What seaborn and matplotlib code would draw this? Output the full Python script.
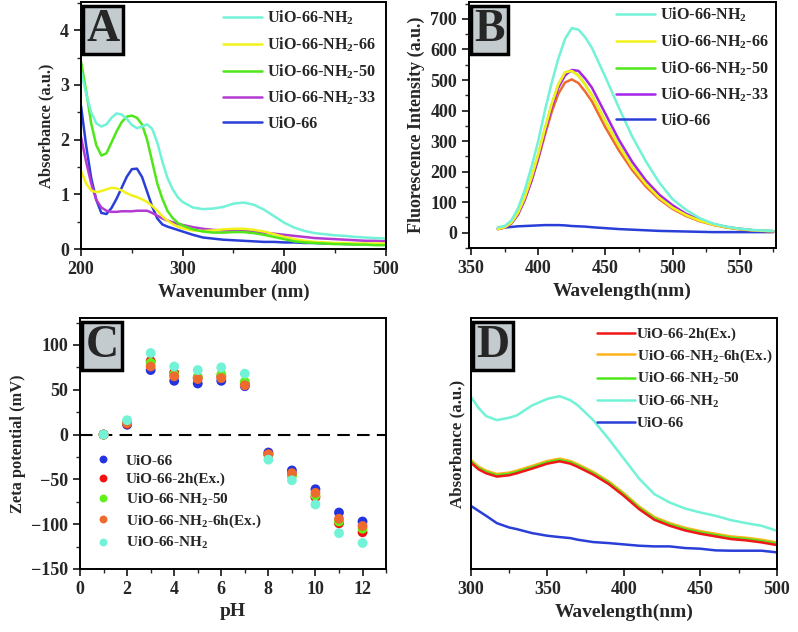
import numpy as np
import pandas as pd
import matplotlib
matplotlib.use("Agg")
import matplotlib.pyplot as plt
from matplotlib.ticker import MultipleLocator, NullLocator
import seaborn as sns

sns.set_style("ticks")
plt.rcParams["font.family"] = ["Liberation Serif", "DejaVu Serif"]
plt.rcParams["font.weight"] = "bold"
plt.rcParams["axes.labelweight"] = "bold"
plt.rcParams["mathtext.fontset"] = "custom"
plt.rcParams["mathtext.rm"] = "Liberation Serif:bold"
plt.rcParams["mathtext.default"] = "rm"

# ---------------- Panel A data ----------------
wl_a = [200, 205, 210, 215, 220, 225, 230, 235, 240, 245, 250, 255, 260, 265, 270, 275, 280, 285, 290, 295,
        300, 310, 320, 330, 340, 350, 360, 370, 380, 390, 400, 410, 420, 430, 440, 450, 460, 470, 480, 490, 500]
a_nh2 = [3.25, 2.85, 2.5, 2.3, 2.24, 2.28, 2.4, 2.48, 2.46, 2.38, 2.27, 2.21, 2.24, 2.28, 2.2, 1.95, 1.6, 1.3, 1.1, 0.95,
         0.86, 0.76, 0.73, 0.74, 0.77, 0.83, 0.85, 0.81, 0.72, 0.6, 0.48, 0.39, 0.33, 0.29, 0.27, 0.25, 0.24, 0.22, 0.21, 0.2, 0.19]
a_nh2_66 = [1.43, 1.2, 1.07, 1.04, 1.06, 1.09, 1.12, 1.11, 1.07, 1.02, 0.98, 0.95, 0.91, 0.86, 0.79, 0.7, 0.6, 0.52, 0.46, 0.41,
            0.38, 0.34, 0.33, 0.34, 0.36, 0.37, 0.37, 0.35, 0.32, 0.27, 0.22, 0.18, 0.15, 0.13, 0.12, 0.11, 0.11, 0.1, 0.1, 0.1, 0.1]
a_nh2_50 = [3.43, 2.9, 2.3, 1.9, 1.71, 1.75, 1.95, 2.15, 2.32, 2.42, 2.44, 2.4, 2.28, 2.0, 1.6, 1.2, 0.92, 0.7, 0.57, 0.48,
            0.43, 0.36, 0.32, 0.3, 0.3, 0.31, 0.31, 0.29, 0.26, 0.22, 0.18, 0.14, 0.12, 0.11, 0.1, 0.09, 0.09, 0.08, 0.08, 0.07, 0.07]
a_nh2_33 = [2.05, 1.6, 1.2, 0.9, 0.76, 0.7, 0.68, 0.68, 0.69, 0.69, 0.69, 0.7, 0.7, 0.7, 0.66, 0.61, 0.56, 0.52, 0.49, 0.46,
            0.44, 0.4, 0.37, 0.35, 0.34, 0.33, 0.33, 0.32, 0.3, 0.28, 0.26, 0.24, 0.22, 0.2, 0.19, 0.18, 0.17, 0.16, 0.15, 0.15, 0.14]
a_uio66 = [2.62, 1.9, 1.3, 0.9, 0.66, 0.64, 0.75, 0.92, 1.12, 1.32, 1.46, 1.47, 1.32, 1.05, 0.78, 0.56, 0.45, 0.41, 0.38, 0.35,
           0.32, 0.26, 0.21, 0.19, 0.17, 0.16, 0.15, 0.14, 0.13, 0.13, 0.12, 0.12, 0.11, 0.11, 0.1, 0.1, 0.09, 0.09, 0.09, 0.08, 0.08]

# ---------------- Panel B data ----------------
wl_b = [370, 375, 380, 385, 390, 395, 400, 405, 410, 415, 420, 425, 430, 435, 440, 450, 460, 470, 480, 490,
        500, 510, 520, 530, 540, 550, 560, 575]
b_nh2 = [18, 22, 40, 80, 140, 215, 300, 400, 490, 570, 635, 670, 665, 640, 605, 510, 410, 315, 235, 165,
         110, 75, 48, 30, 20, 13, 9, 6]
b_nh2_66 = [12, 18, 32, 65, 115, 180, 255, 340, 420, 485, 525, 530, 515, 485, 450, 365, 285, 215, 160, 115,
            82, 58, 40, 27, 18, 12, 8, 5]
b_nh2_50 = [12, 18, 32, 65, 115, 180, 255, 340, 420, 485, 525, 530, 515, 485, 450, 365, 285, 215, 160, 115,
            82, 58, 40, 27, 18, 12, 8, 5]
b_nh2_33 = [12, 17, 30, 60, 108, 170, 245, 330, 410, 475, 515, 533, 530, 505, 475, 390, 305, 232, 172, 125,
            90, 62, 43, 29, 19, 13, 8, 5]
b_extra = [12, 17, 30, 60, 108, 170, 240, 320, 395, 455, 492, 502, 490, 462, 430, 345, 270, 205, 152, 110,
           78, 55, 38, 26, 17, 11, 7, 4]
b_uio66 = [15, 17, 19, 21, 22, 23, 24, 25, 25, 25, 24, 22, 21, 20, 18, 15, 12, 10, 8, 6,
           5, 4, 3, 2, 2, 2, 2, 2]

# ---------------- Panel C data ----------------
ph = [1, 2, 3, 4, 5, 6, 7, 8, 9, 10, 11, 12]
c_uio66 = [0, 11, 72, 60, 57, 60, 54, -20, -40, -61, -87, -97]
c_2h = [0, 12, 82, 69, 64, 65, 57, -22, -45, -70, -99, -109]
c_nh2_50 = [0, 13, 80, 67, 64, 67, 59, -23, -46, -68, -97, -105]
c_nh2_6h = [0, 13, 76, 65, 62, 63, 55, -22, -43, -65, -94, -102]
c_nh2 = [0, 16, 91, 76, 72, 75, 68, -28, -51, -78, -110, -121]

# ---------------- Panel D data ----------------
wl_d = [300, 305, 310, 317, 325, 330, 340, 350, 358, 365, 370, 380, 390, 400, 410, 420, 430, 440, 450, 460, 470, 480, 490, 500]
d_nh2 = [5.18, 4.85, 4.6, 4.48, 4.55, 4.62, 4.92, 5.12, 5.2, 5.08, 4.92, 4.48, 3.92, 3.32, 2.72, 2.25, 2.0, 1.82, 1.7, 1.6, 1.47, 1.38, 1.3, 1.15]
d_2h = [3.2, 3.0, 2.88, 2.78, 2.82, 2.88, 3.02, 3.17, 3.24, 3.17, 3.07, 2.84, 2.56, 2.2, 1.8, 1.48, 1.3, 1.16, 1.06, 0.98, 0.9, 0.86, 0.8, 0.72]
d_6h = [3.28, 3.08, 2.96, 2.86, 2.9, 2.96, 3.1, 3.25, 3.32, 3.25, 3.15, 2.92, 2.64, 2.28, 1.88, 1.56, 1.38, 1.24, 1.14, 1.06, 0.98, 0.94, 0.88, 0.8]
d_nh2_50 = [3.24, 3.04, 2.92, 2.82, 2.86, 2.92, 3.06, 3.21, 3.28, 3.21, 3.11, 2.88, 2.6, 2.24, 1.84, 1.52, 1.34, 1.2, 1.1, 1.02, 0.94, 0.9, 0.84, 0.76]
d_uio66 = [1.9, 1.75, 1.6, 1.38, 1.25, 1.2, 1.08, 1.0, 0.96, 0.93, 0.88, 0.81, 0.78, 0.74, 0.7, 0.68, 0.68, 0.63, 0.61, 0.56, 0.55, 0.55, 0.55, 0.5]

L_NH2 = "UiO-66-NH$_2$"
L_66 = "UiO-66-NH$_2$-66"
L_50 = "UiO-66-NH$_2$-50"
L_33 = "UiO-66-NH$_2$-33"
L_U = "UiO-66"
L_2H = "UiO-66-2h(Ex.)"
L_6H = "UiO-66-NH$_2$-6h(Ex.)"

CYAN = "#72f2d6"
YELLOW = "#f2f21a"
GREEN = "#4fe61a"
PURPLE = "#b43ad2"
BLUE = "#2a3fd8"
RED = "#f01818"
ORANGE = "#ef6a30"
GOLD = "#ffb31a"


def long_df(x, series):
    frames = []
    for name, vals in series:
        frames.append(pd.DataFrame({"x": x, "y": vals, "s": name}))
    return pd.concat(frames, ignore_index=True)


fig = plt.figure(figsize=(7.98, 6.32), dpi=100)

TICK_FS = 13


def style_axes(ax):
    for sp in ax.spines.values():
        sp.set_visible(True)
        sp.set_linewidth(1.4)
        sp.set_color("black")
    ax.tick_params(which="major", direction="out", length=5, width=1.3, labelsize=TICK_FS,
                   top=False, right=False)
    ax.tick_params(which="minor", direction="out", length=3, width=1.0, top=False, right=False)
    for lab in ax.get_xticklabels() + ax.get_yticklabels():
        lab.set_fontweight("bold")


def panel_label(ax, letter):
    ax.text(0.018, 0.972, letter, transform=ax.transAxes, fontsize=33, fontweight="bold",
            ha="left", va="top",
            bbox=dict(boxstyle="square,pad=0.07", facecolor="#c3cbcf", edgecolor="black", linewidth=2.5),
            zorder=10)


order = [L_NH2, L_66, L_50, L_33, L_U]

# ---------- A ----------
axA = fig.add_axes([0.1015, 0.606, 0.3822, 0.391])
dfA = long_df(wl_a, [(L_U, a_uio66), (L_33, a_nh2_33), (L_66, a_nh2_66), (L_50, a_nh2_50), (L_NH2, a_nh2)])
palA = {L_NH2: CYAN, L_66: YELLOW, L_50: GREEN, L_33: PURPLE, L_U: BLUE}
sns.lineplot(data=dfA, x="x", y="y", hue="s", palette=palA, ax=axA, linewidth=1.8,
             hue_order=[L_U, L_33, L_66, L_50, L_NH2], legend=True)
axA.set_xlim(200, 500)
axA.set_ylim(0, 4.52)
axA.xaxis.set_major_locator(MultipleLocator(100))
axA.xaxis.set_minor_locator(MultipleLocator(50))
axA.yaxis.set_major_locator(MultipleLocator(1))
axA.yaxis.set_minor_locator(MultipleLocator(0.5))
axA.set_xlabel("Wavenumber (nm)", fontsize=13.5, fontweight="bold")
axA.set_ylabel("Absorbance (a.u.)", fontsize=11.8, fontweight="bold")
h, l = axA.get_legend_handles_labels()
hd = dict(zip(l, h))
axA.legend([hd[k] for k in order], order, loc="upper right", bbox_to_anchor=(1.0, 1.012), frameon=False,
           fontsize=11.6, handlelength=2.4, handletextpad=0.35, labelspacing=0.52, borderaxespad=0.2)
style_axes(axA)
panel_label(axA, "A")

# ---------- B ----------
axB = fig.add_axes([0.5877, 0.6076, 0.3847, 0.389])
dfB = long_df(wl_b, [(L_U, b_uio66), (L_50, b_nh2_50), ("_extra", b_extra), (L_33, b_nh2_33), (L_66, b_nh2_66), (L_NH2, b_nh2)])
palB = {L_NH2: CYAN, L_66: YELLOW, L_50: GREEN, L_33: "#a424e8", L_U: BLUE, "_extra": ORANGE}
sns.lineplot(data=dfB, x="x", y="y", hue="s", palette=palB, ax=axB, linewidth=1.8,
             hue_order=[L_U, L_50, "_extra", L_33, L_66, L_NH2], legend=True)
axB.set_xlim(348.5, 577)
axB.set_ylim(-50, 755)
axB.xaxis.set_major_locator(MultipleLocator(50))
axB.xaxis.set_minor_locator(MultipleLocator(25))
axB.yaxis.set_major_locator(MultipleLocator(100))
axB.yaxis.set_minor_locator(MultipleLocator(50))
axB.set_xlabel("Wavelength(nm)", fontsize=14, fontweight="bold")
axB.set_ylabel("Fluorescence Intensity (a.u.)", fontsize=13, fontweight="bold")
h, l = axB.get_legend_handles_labels()
hd = dict(zip(l, h))
axB.legend([hd[k] for k in order], order, loc="upper right", bbox_to_anchor=(1.01, 1.025), frameon=False,
           fontsize=11.6, handlelength=2.4, handletextpad=0.35, labelspacing=0.52, borderaxespad=0.2)
style_axes(axB)
panel_label(axB, "B")

# ---------- C ----------
axC = fig.add_axes([0.1003, 0.0997, 0.3835, 0.397])
dfC = long_df(ph, [(L_U, c_uio66), (L_2H, c_2h), (L_50, c_nh2_50), (L_6H, c_nh2_6h), (L_NH2, c_nh2)])
palC = {L_U: "#2433e0", L_2H: "#f21010", L_50: "#62f01a", L_6H: "#ee6a2e", L_NH2: CYAN}
axC.axhline(0, color="black", linestyle=(0, (6, 3.5)), linewidth=1.5, zorder=1)
sns.scatterplot(data=dfC, x="x", y="y", hue="s", palette=palC, ax=axC, s=50, linewidth=0,
                hue_order=[L_U, L_2H, L_50, L_6H, L_NH2], zorder=3)
axC.set_xlim(0, 13)
axC.set_ylim(-150, 130)
axC.xaxis.set_major_locator(MultipleLocator(2))
axC.xaxis.set_minor_locator(MultipleLocator(1))
axC.yaxis.set_major_locator(MultipleLocator(50))
axC.yaxis.set_minor_locator(MultipleLocator(25))
axC.set_xlabel("pH", fontsize=14, fontweight="bold")
axC.set_ylabel("Zeta potential (mV)", fontsize=11.8, fontweight="bold")
axC.legend(loc="center left", bbox_to_anchor=(0.005, 0.265), frameon=False, fontsize=11.0,
           handlelength=1.0, handletextpad=1.0, labelspacing=0.33, markerscale=0.8)
style_axes(axC)
panel_label(axC, "C")

# ---------- D ----------
axD = fig.add_axes([0.590, 0.0997, 0.3835, 0.397])
dfD = long_df(wl_d, [(L_U, d_uio66), (L_NH2, d_nh2), (L_6H, d_6h), (L_50, d_nh2_50), (L_2H, d_2h)])
palD = {L_2H: RED, L_6H: GOLD, L_50: GREEN, L_NH2: CYAN, L_U: BLUE}
sns.lineplot(data=dfD, x="x", y="y", hue="s", palette=palD, ax=axD, linewidth=1.8,
             hue_order=[L_U, L_NH2, L_6H, L_50, L_2H], legend=True)
axD.set_xlim(300, 500)
axD.set_ylim(0, 7.55)
axD.xaxis.set_major_locator(MultipleLocator(50))
axD.xaxis.set_minor_locator(MultipleLocator(25))
axD.yaxis.set_major_locator(NullLocator())
axD.yaxis.set_minor_locator(NullLocator())
axD.set_xlabel("Wavelength(nm)", fontsize=14, fontweight="bold")
axD.set_ylabel("Absorbance (a.u.)", fontsize=12.2, fontweight="bold")
h, l = axD.get_legend_handles_labels()
hd = dict(zip(l, h))
orderD = [L_2H, L_6H, L_50, L_NH2, L_U]
axD.legend([hd[k] for k in orderD], orderD, loc="upper right", bbox_to_anchor=(1.015, 1.0), frameon=False,
           fontsize=11.0, handlelength=2.5, handletextpad=0.1, labelspacing=0.42, borderaxespad=0.2)
style_axes(axD)
panel_label(axD, "D")

fig.savefig("out.png", dpi=100)
